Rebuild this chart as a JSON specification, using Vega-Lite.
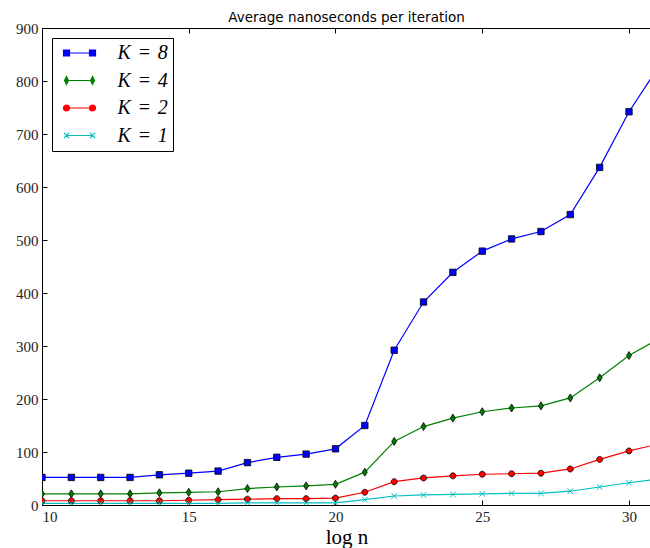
{
  "$schema": "https://vega.github.io/schema/vega-lite/v6.json",
  "autosize": "none",
  "padding": {"left": 42, "top": 28, "right": 0, "bottom": 43},
  "width": 609,
  "height": 477,
  "title": {"text": "Average nanoseconds per iteration", "font": "DejaVu Sans", "fontSize": 13.5, "fontWeight": "normal", "anchor": "middle", "offset": -3, "color": "black"},
  "data": {"values": [
    {"n":10,"K":"8","ns":52},{"n":11,"K":"8","ns":52},{"n":12,"K":"8","ns":52},{"n":13,"K":"8","ns":52},{"n":14,"K":"8","ns":57},{"n":15,"K":"8","ns":60},{"n":16,"K":"8","ns":64},{"n":17,"K":"8","ns":80},{"n":18,"K":"8","ns":90},{"n":19,"K":"8","ns":96},{"n":20,"K":"8","ns":106},{"n":21,"K":"8","ns":150},{"n":22,"K":"8","ns":292},{"n":23,"K":"8","ns":383},{"n":24,"K":"8","ns":439},{"n":25,"K":"8","ns":479},{"n":26,"K":"8","ns":502},{"n":27,"K":"8","ns":516},{"n":28,"K":"8","ns":548},{"n":29,"K":"8","ns":637},{"n":30,"K":"8","ns":742},{"n":31,"K":"8","ns":826},
    {"n":10,"K":"4","ns":21},{"n":11,"K":"4","ns":21},{"n":12,"K":"4","ns":21},{"n":13,"K":"4","ns":21},{"n":14,"K":"4","ns":23},{"n":15,"K":"4","ns":24},{"n":16,"K":"4","ns":25},{"n":17,"K":"4","ns":31},{"n":18,"K":"4","ns":34},{"n":19,"K":"4","ns":36},{"n":20,"K":"4","ns":39},{"n":21,"K":"4","ns":62},{"n":22,"K":"4","ns":120},{"n":23,"K":"4","ns":148},{"n":24,"K":"4","ns":164},{"n":25,"K":"4","ns":176},{"n":26,"K":"4","ns":183},{"n":27,"K":"4","ns":187},{"n":28,"K":"4","ns":202},{"n":29,"K":"4","ns":240},{"n":30,"K":"4","ns":282},{"n":31,"K":"4","ns":313},
    {"n":10,"K":"2","ns":8},{"n":11,"K":"2","ns":8},{"n":12,"K":"2","ns":8},{"n":13,"K":"2","ns":8},{"n":14,"K":"2","ns":8},{"n":15,"K":"2","ns":9},{"n":16,"K":"2","ns":10},{"n":17,"K":"2","ns":11},{"n":18,"K":"2","ns":12},{"n":19,"K":"2","ns":12},{"n":20,"K":"2","ns":13},{"n":21,"K":"2","ns":24},{"n":22,"K":"2","ns":44},{"n":23,"K":"2","ns":51},{"n":24,"K":"2","ns":55},{"n":25,"K":"2","ns":58},{"n":26,"K":"2","ns":59},{"n":27,"K":"2","ns":60},{"n":28,"K":"2","ns":68},{"n":29,"K":"2","ns":86},{"n":30,"K":"2","ns":102},{"n":31,"K":"2","ns":115},
    {"n":10,"K":"1","ns":3},{"n":11,"K":"1","ns":3},{"n":12,"K":"1","ns":3},{"n":13,"K":"1","ns":3},{"n":14,"K":"1","ns":3},{"n":15,"K":"1","ns":3},{"n":16,"K":"1","ns":3},{"n":17,"K":"1","ns":4},{"n":18,"K":"1","ns":4},{"n":19,"K":"1","ns":4},{"n":20,"K":"1","ns":4},{"n":21,"K":"1","ns":10},{"n":22,"K":"1","ns":17},{"n":23,"K":"1","ns":19},{"n":24,"K":"1","ns":20},{"n":25,"K":"1","ns":21},{"n":26,"K":"1","ns":22},{"n":27,"K":"1","ns":22},{"n":28,"K":"1","ns":26},{"n":29,"K":"1","ns":34},{"n":30,"K":"1","ns":42},{"n":31,"K":"1","ns":49}
  ]},
  "layer": [
    {
      "mark": {"type": "line", "strokeWidth": 1.2, "clip": true},
      "encoding": {
        "x": {"field": "n", "type": "quantitative", "scale": {"domain": [10, 30.75], "nice": false, "zero": false},
              "axis": {"orient": "bottom", "values": [10, 15, 20, 25, 30], "title": "log n", "titleFont": "Liberation Serif", "titleFontSize": 21, "titleFontWeight": "normal", "titlePadding": 2}},
        "y": {"field": "ns", "type": "quantitative", "scale": {"domain": [0, 900], "nice": false},
              "axis": {"values": [0,100,200,300,400,500,600,700,800,900], "title": null}},
        "color": {"field": "K", "type": "nominal", "scale": {"domain": ["8","4","2","1"], "range": ["#0000ff","#008000","#ff0000","#00bfbf"]}, "title": null,
          "legend": {
            "labelExpr": "'K\u2004=\u2004' + datum.label",
            "encode": {"symbols": {"update": {
              "shape": {"signal": "datum.value === '8' ? 'M-4,-0.75H-2.5V0.75H-4Z M-3.25,0H3.25 M2.5,-0.75H4V0.75H2.5Z' : datum.value === '4' ? 'M-3.25,-1L-2.75,0L-3.25,1L-3.75,0Z M-3.25,0H3.25 M3.25,-1L3.75,0L3.25,1L2.75,0Z' : datum.value === '2' ? 'M-2.5,0A0.75,0.75 0 1,1 -4,0A0.75,0.75 0 1,1 -2.5,0Z M-3.25,0H3.25 M4,0A0.75,0.75 0 1,1 2.5,0A0.75,0.75 0 1,1 4,0Z' : 'M-3.9,-0.65L-2.6,0.65M-2.6,-0.65L-3.9,0.65 M-3.25,0H3.25 M2.6,-0.65L3.9,0.65M3.9,-0.65L2.6,0.65'"},
              "fill": {"scale": "color", "field": "value"},
              "stroke": {"scale": "color", "field": "value"},
              "strokeWidth": {"value": 1.2},
              "opacity": {"value": 1},
              "size": {"value": 64}
            }}}
          }}
      }
    },
    {
      "transform": [{"filter": "datum.K === '8'"}],
      "mark": {"type": "point", "filled": true, "shape": "M-0.8,-0.8H0.8V0.8H-0.8Z", "size": 64, "stroke": "black", "strokeWidth": 0.8, "opacity": 1, "clip": true},
      "encoding": {
        "x": {"field": "n", "type": "quantitative", "axis": {"orient": "top", "values": [10, 15, 20, 25, 30], "labels": false, "title": null, "domain": false}},
        "y": {"field": "ns", "type": "quantitative"},
        "color": {"field": "K", "type": "nominal", "title": null}
      }
    },
    {
      "transform": [{"filter": "datum.K === '4'"}],
      "mark": {"type": "point", "filled": true, "shape": "M0,-1L0.62,0L0,1L-0.62,0Z", "size": 64, "stroke": "black", "strokeWidth": 0.8, "opacity": 1, "clip": true},
      "encoding": {
        "x": {"field": "n", "type": "quantitative", "axis": null},
        "y": {"field": "ns", "type": "quantitative"},
        "color": {"field": "K", "type": "nominal", "title": null}
      }
    },
    {
      "transform": [{"filter": "datum.K === '2'"}],
      "mark": {"type": "point", "filled": true, "shape": "M0.75,0A0.75,0.75 0 1,1 -0.75,0A0.75,0.75 0 1,1 0.75,0Z", "size": 64, "stroke": "black", "strokeWidth": 0.8, "opacity": 1, "clip": true},
      "encoding": {
        "x": {"field": "n", "type": "quantitative", "axis": null},
        "y": {"field": "ns", "type": "quantitative"},
        "color": {"field": "K", "type": "nominal", "title": null}
      }
    },
    {
      "transform": [{"filter": "datum.K === '1'"}],
      "mark": {"type": "point", "filled": false, "shape": "M-0.7,-0.7L0.7,0.7M0.7,-0.7L-0.7,0.7", "size": 64, "strokeWidth": 1, "opacity": 1, "clip": true},
      "encoding": {
        "x": {"field": "n", "type": "quantitative", "axis": null},
        "y": {"field": "ns", "type": "quantitative"},
        "color": {"field": "K", "type": "nominal", "title": null}
      }
    }
  ],
  "resolve": {"axis": {"x": "independent"}},
  "config": {
    "view": {"stroke": "black", "strokeWidth": 1},
    "axis": {"grid": false, "domainColor": "black", "domainWidth": 1, "tickColor": "black", "tickSize": -5, "tickWidth": 1, "labelPadding": 9, "labelFont": "Liberation Serif", "labelFontSize": 15, "labelColor": "#222222"},
    "legend": {"orient": "top-left", "offset": 10, "strokeColor": "black", "strokeWidth": 1, "fillColor": "white", "padding": 5, "cornerRadius": 0, "labelFont": "Liberation Serif", "labelFontSize": 20, "labelFontStyle": "italic", "labelColor": "black", "symbolSize": 64, "symbolOffset": 12.5, "rowPadding": 7.5, "labelOffset": 28, "labelLimit": 200}
  }
}
